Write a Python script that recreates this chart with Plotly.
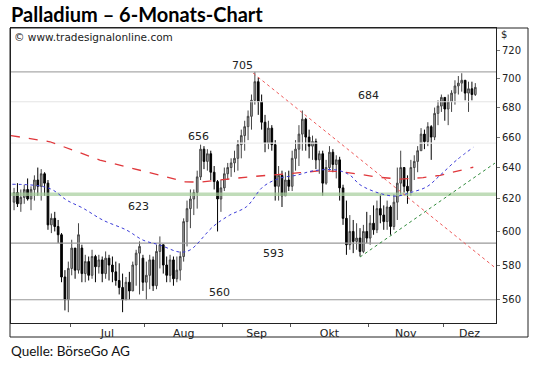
import math
import pandas as pd
import plotly.graph_objects as go

# ---------------- data ----------------
dates = pd.bdate_range("2012-06-07", periods=137)

opens = [618, 624, 617, 621, 626, 620, 626, 632, 628, 636,
         630, 604, 608, 603, 598, 573, 560, 578, 590, 577,
         590, 575, 582, 574, 585, 579, 583, 575, 584, 580,
         576, 571, 567, 560, 570, 565, 580, 587, 584, 570,
         574, 583, 568, 588, 592, 580, 574, 583, 572, 577,
         585, 606, 614, 620, 624, 634, 652, 644, 649, 637,
         631, 620, 627, 636, 640, 643, 646, 655, 661, 667,
         674, 685, 698, 684, 670, 656, 666, 655, 628, 635,
         622, 632, 628, 646, 652, 662, 672, 660, 654, 657,
         645, 649, 630, 640, 650, 642, 645, 627, 608, 592,
         600, 594, 596, 588, 600, 596, 605, 601, 614, 610,
         606, 615, 603, 618, 630, 640, 628, 625, 640, 644,
         651, 662, 657, 667, 660, 676, 681, 687, 679, 684,
         690, 695, 697, 699, 690, 693, 689]
closes = [624, 617, 621, 626, 620, 626, 632, 628, 636, 630,
          604, 608, 603, 598, 573, 560, 578, 590, 577, 598,
          575, 582, 574, 585, 579, 583, 575, 584, 580, 576,
          571, 567, 560, 570, 565, 580, 587, 591, 570, 574,
          583, 568, 588, 592, 580, 574, 583, 572, 577, 585,
          606, 614, 620, 624, 634, 652, 644, 649, 637, 631,
          620, 627, 636, 640, 643, 646, 655, 661, 667, 674,
          685, 698, 684, 670, 656, 666, 655, 628, 635, 622,
          632, 628, 646, 652, 662, 672, 660, 654, 657, 645,
          649, 630, 640, 650, 642, 645, 627, 608, 592, 600,
          594, 596, 588, 600, 596, 605, 601, 614, 610, 606,
          615, 603, 618, 630, 640, 628, 625, 640, 644, 651,
          662, 657, 667, 660, 676, 681, 687, 679, 684, 690,
          695, 697, 699, 690, 693, 689, 694]
highs = [627, 630, 626, 629, 633, 628, 635, 640, 639, 637,
         632, 611, 612, 607, 599, 577, 582, 595, 590, 605,
         592, 586, 585, 589, 586, 586, 585, 588, 586, 585,
         582, 581, 575, 573, 576, 582, 589, 594, 586, 582,
         586, 585, 592, 597, 592, 585, 586, 585, 585, 588,
         608, 619, 626, 626, 638, 655, 654, 652, 651, 641,
         632, 632, 640, 643, 646, 651, 658, 665, 671, 678,
         689, 705, 701, 689, 675, 671, 668, 658, 641, 638,
         637, 638, 651, 658, 668, 678, 673, 665, 661, 659,
         651, 651, 645, 654, 652, 648, 647, 629, 619, 610,
         607, 605, 602, 604, 612, 610, 616, 619, 623, 616,
         619, 616, 623, 640, 651, 640, 635, 645, 648, 654,
         666, 665, 670, 668, 680, 685, 689, 687, 689, 692,
         699, 702, 704, 699, 698, 698, 697]
lows = [613, 615, 612, 617, 619, 613, 619, 622, 619, 622,
        601, 599, 600, 593, 570, 554, 553, 574, 572, 575,
        570, 570, 571, 572, 570, 575, 570, 572, 571, 570,
        568, 563, 553, 560, 560, 565, 568, 563, 565, 560,
        566, 565, 566, 578, 575, 570, 570, 568, 570, 571,
        582, 591, 602, 610, 614, 632, 639, 638, 632, 626,
        600, 612, 625, 632, 634, 637, 638, 646, 651, 658,
        665, 682, 675, 665, 650, 652, 651, 619, 619, 615,
        622, 625, 625, 638, 641, 651, 651, 646, 645, 639,
        636, 622, 629, 638, 637, 633, 619, 604, 586, 589,
        587, 589, 585, 587, 593, 592, 598, 599, 605, 601,
        601, 598, 601, 607, 622, 624, 617, 622, 632, 637,
        651, 652, 654, 645, 658, 668, 677, 671, 668, 677,
        682, 689, 691, 685, 677, 685, 688]

# moving averages read at points along the curves (bar index, value)
ma200_idx = [-0.9, 10.6, 25.3, 40.1, 50.4, 54.8, 69.6, 84.3, 90.2, 96.1, 99.1,
             107.9, 113.8, 120.6, 125.6, 135.4]
ma200_val = [661.0, 656.9, 644.9, 636.4, 630.9, 630.6, 634.1, 636.7, 637.9, 637.5,
             636.5, 633.7, 632.6, 633.5, 635.0, 640.2]
ma50_idx = [-0.5, 4.7, 8.6, 11.5, 15.5, 20.3, 26.2, 33.2, 38.0, 43.0, 49.0, 52.0,
            58.7, 63.6, 68.6, 73.4, 78.4, 83.4, 88.2, 95.1, 99.1, 102.0, 107.9,
            112.8, 116.8, 121.7, 125.6, 130.5, 135.4]
ma50_val = [629.3, 628.9, 627.8, 625.6, 619.3, 614.3, 606.9, 600.8, 594.8, 591.8,
            587.6, 589.0, 603.0, 610.0, 615.3, 627.7, 633.2, 635.1, 637.9, 638.4,
            635.0, 629.0, 623.5, 621.8, 624.0, 627.7, 635.0, 644.9, 653.2]

# trend lines (bar index, value)
down_idx = [70.5, 141.8]
down_val = [704.0, 578.5]
up_idx = [102.0, 141.8]
up_val = [584.7, 642.9]

# horizontal levels
levels = [705, 684, 656, 593, 560]
level_colors = ["#aaaaaa", "#e4e4e4", "#ececec", "#999999", "#999999"]
green_level = 623
level_labels = ["705", "684", "656", "623", "593", "560"]
label_idx = [67.5, 104.4, 54.4, 36.6, 76.4, 60.7]
label_val = [705, 684, 656, 623, 593, 560]
label_shift = [6, 6, 7, -12, -10, 7]

month_names = ["Jul", "Aug", "Sep", "Okt", "Nov", "Dez"]
y_ticks = [560, 580, 600, 620, 640, 660, 680, 700, 720]

# ---------------- figure ----------------
X_LO, X_HI = -0.9, 142.1
idx = list(range(len(dates)))

# month boundaries from the trading calendar
month_starts = []
for k in range(1, len(dates)):
    if dates[k].month != dates[k - 1].month:
        month_starts.append(k - 0.5)
bounds = month_starts + [X_HI]
month_mid = [(bounds[k] + bounds[k + 1]) / 2 for k in range(len(month_starts))]

fig = go.Figure()

for lv, col in zip(levels, level_colors):
    fig.add_trace(go.Scatter(x=[X_LO, X_HI], y=[lv, lv], mode="lines",
                             line=dict(color=col, width=1.2), hoverinfo="skip"))
fig.add_trace(go.Scatter(x=[X_LO, X_HI], y=[green_level, green_level], mode="lines",
                         line=dict(color="rgba(165,205,155,0.7)", width=3.5), hoverinfo="skip"))

fig.add_trace(go.Candlestick(
    x=idx, open=opens, high=highs, low=lows, close=closes,
    increasing=dict(line=dict(color="#444444", width=1), fillcolor="#aaaaaa"),
    decreasing=dict(line=dict(color="#000000", width=1), fillcolor="#000000"),
    whiskerwidth=0, text=[d.strftime("%d.%m.%Y") for d in dates]))

fig.add_trace(go.Scatter(x=ma200_idx, y=ma200_val, mode="lines",
                         line=dict(color="#e0383c", width=1.3, dash="dash")))
fig.add_trace(go.Scatter(x=ma50_idx, y=ma50_val, mode="lines", line_shape="spline",
                         line=dict(color="#3b3bd8", width=1, dash="dot")))
fig.add_trace(go.Scatter(x=down_idx, y=down_val, mode="lines",
                         line=dict(color="#ee5a5a", width=1, dash="dot")))
fig.add_trace(go.Scatter(x=up_idx, y=up_val, mode="lines",
                         line=dict(color="#2f8a3a", width=1, dash="dot")))

annotations = []
for t, xi, v, s in zip(level_labels, label_idx, label_val, label_shift):
    annotations.append(dict(x=xi, y=math.log10(v), xref="x", yref="y", text=t,
                            showarrow=False, yshift=s, xanchor="center", yanchor="middle",
                            font=dict(family="DejaVu Sans", size=11, color="#222222")))

W, H = 540, 366
L, R, T, B = 11, 44, 28, 43
pw, ph = W - L - R, H - T - B


def px(xp):
    return (xp - L) / pw


def py(yp):
    return (H - B - yp) / ph


annotations += [
    dict(x=px(9), y=py(14), xref="paper", yref="paper", xanchor="left", yanchor="middle",
         text="<b>Palladium – 6-Monats-Chart</b>", showarrow=False,
         font=dict(family="Lato", size=20, color="#000000")),
    dict(x=px(9), y=py(351), xref="paper", yref="paper", xanchor="left", yanchor="middle",
         text="Quelle: BörseGo AG", showarrow=False,
         font=dict(family="Lato", size=13.5, color="#111111")),
    dict(x=px(12), y=py(37), xref="paper", yref="paper", xanchor="left", yanchor="middle",
         text="© www.tradesignalonline.com", showarrow=False,
         font=dict(family="DejaVu Sans", size=10.5, color="#222222")),
    dict(x=px(499), y=py(34), xref="paper", yref="paper", xanchor="left", yanchor="middle",
         text="$", showarrow=False,
         font=dict(family="DejaVu Sans", size=10, color="#222222")),
]

fig.update_layout(
    width=W, height=H, margin=dict(l=L, r=R, t=T, b=B, pad=0),
    paper_bgcolor="white", plot_bgcolor="white", showlegend=False,
    annotations=annotations,
    shapes=[dict(type="rect", xref="paper", yref="paper", x0=px(10), x1=px(528),
                 y0=py(337), y1=1, line=dict(color="#222222", width=1))],
)
fig.update_xaxes(
    range=[X_LO, X_HI], rangeslider=dict(visible=False), showgrid=False, zeroline=False,
    showline=True, mirror=True, linecolor="#222222", linewidth=1,
    tickmode="array", tickvals=month_mid, ticktext=month_names, ticks="",
    tickfont=dict(family="DejaVu Sans", size=11, color="#222222"),
    minor=dict(tickmode="array", tickvals=month_starts, ticks="outside", ticklen=3,
               tickcolor="#555555", showgrid=False),
)
fig.update_yaxes(
    type="log", range=[math.log10(547.0), math.log10(736.9)], side="right",
    showgrid=False, zeroline=False, showline=True, mirror=True,
    linecolor="#222222", linewidth=1,
    tickmode="array", tickvals=y_ticks, ticktext=[str(v) for v in y_ticks],
    ticks="outside", ticklen=3, tickcolor="#777777",
    tickfont=dict(family="DejaVu Sans", size=10, color="#222222"),
)

fig.write_html("out.html", config={"displayModeBar": False},
               post_script="document.body.style.margin='0';")
